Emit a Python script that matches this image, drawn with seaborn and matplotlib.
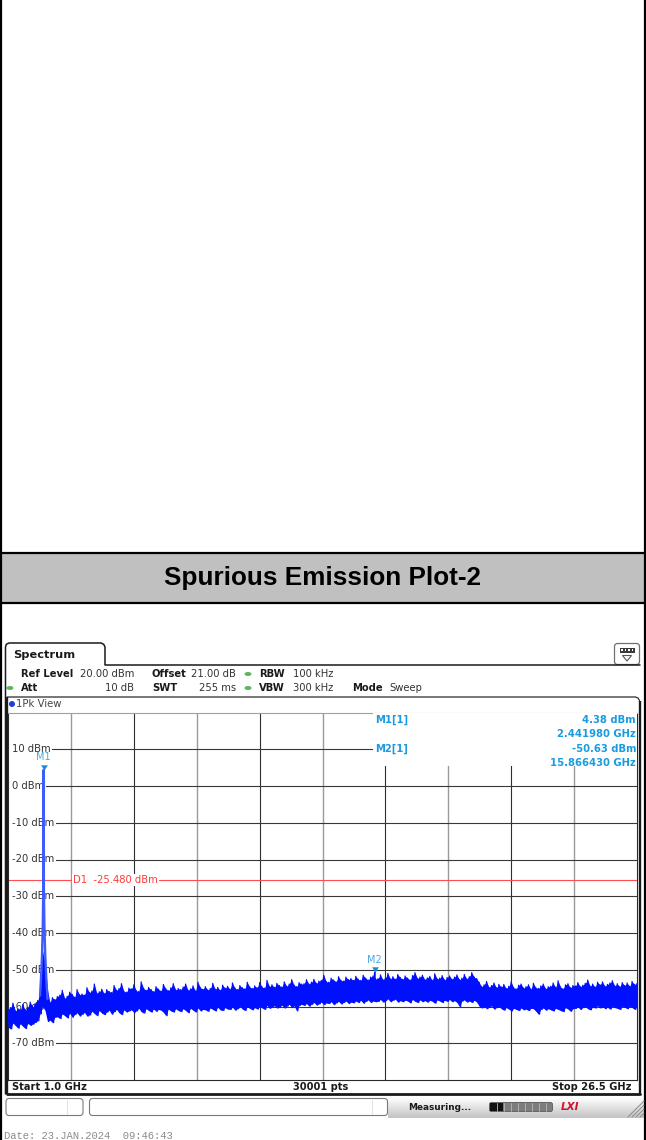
import numpy as np
import matplotlib
matplotlib.use("Agg")
import matplotlib.pyplot as plt
from matplotlib.patches import Rectangle, FancyBboxPatch, Ellipse, Circle, Polygon
from matplotlib.colors import LinearSegmentedColormap
import seaborn as sns

sns.set_theme(style="white")
plt.rcParams["font.family"] = ["DejaVu Sans"]

# ---------------- analyzer settings ----------------
start_ghz = 1.0
stop_ghz = 26.5
sweep_points = 30001
ref_level_dbm = 20.00
offset_db = 21.00
att_db = 10
swt_ms = 255
rbw_khz = 100
vbw_khz = 300
level_range_db = 100
display_line_dbm = -25.480

# ---------------- markers ----------------
m1_freq_ghz, m1_level_dbm = 2.441980, 4.38
m2_freq_ghz, m2_level_dbm = 15.866430, -50.63

level_labels_dbm = [10, 0, -10, -20, -30, -40, -50, -60, -70]

# ---------------- trace: max / min envelope per 100 MHz bin ----------------
trace_freq_ghz = np.arange(10, 266) / 10.0
trace_max_dbm = [
    -60.8, -60.3, -59.1, -61.2, -60.6, -60.9, -59.4, -61.1, -60.2, -58.8,
    -60.1, -59.2, -58.4, -56.5, -45.0, -48.0, -55.5, -58.9, -57.6, -58.1,
    -57.3, -56.9, -55.6, -57.8, -57.2, -56.1, -56.7, -57.5, -55.4, -56.8,
    -56.6, -56.9, -54.9, -56.2, -55.8, -53.9, -56.4, -56.0, -55.3, -56.5,
    -55.4, -55.9, -56.2, -54.3, -55.6, -55.1, -53.8, -55.9, -56.1, -55.0,
    -55.2, -54.1, -55.7, -55.9, -53.3, -55.1, -55.6, -54.8, -55.4, -56.0,
    -54.6, -55.3, -55.8, -54.0, -55.2, -55.7, -54.9, -53.8, -55.5, -55.1,
    -55.4, -54.7, -53.9, -55.6, -55.2, -54.4, -55.8, -53.4, -54.9, -55.3,
    -54.6, -55.5, -55.1, -53.7, -55.3, -54.8, -55.6, -54.2, -55.0, -54.5,
    -55.3, -53.6, -55.0, -55.4, -54.3, -54.9, -55.2, -53.4, -54.7, -55.1,
    -54.4, -54.9, -53.5, -54.7, -55.0, -52.9, -54.6, -54.1, -54.8, -53.7,
    -54.3, -54.7, -53.3, -54.5, -53.9, -52.7, -54.2, -54.6, -53.5, -53.9,
    -53.8, -52.7, -53.9, -53.4, -52.6, -53.7, -53.1, -52.9, -51.5, -53.2,
    -53.4, -52.3, -52.8, -53.3, -51.9, -52.9, -53.1, -52.0, -52.7, -52.4,
    -52.9, -51.8, -52.6, -52.9, -51.5, -52.3, -52.8, -52.0, -51.7, -52.5,
    -52.4, -51.4, -52.7, -52.2, -51.0, -52.5, -51.9, -52.6, -51.3, -52.1,
    -52.6, -51.7, -52.3, -52.8, -51.6, -50.8, -52.4, -52.0, -51.5, -52.7,
    -52.2, -51.8, -52.9, -51.1, -52.5, -52.3, -51.6, -52.8, -52.1, -51.7,
    -52.6, -52.0, -51.4, -52.7, -52.3, -51.3, -52.5, -51.9, -50.8, -52.0,
    -52.4, -53.4, -54.6, -54.1, -53.2, -54.8, -54.3, -53.6, -54.9, -54.0,
    -54.7, -54.0, -55.1, -54.5, -53.3, -54.9, -55.2, -54.2, -53.9, -55.0,
    -54.6, -54.1, -55.3, -53.7, -54.9, -55.1, -54.4, -53.9, -55.2, -54.6,
    -54.5, -53.6, -54.8, -53.0, -54.7, -55.2, -54.1, -53.8, -54.9, -54.3,
    -54.4, -53.5, -54.6, -54.2, -53.7, -52.8, -54.5, -53.9, -54.7, -53.4,
    -54.1, -53.3, -54.5, -54.0, -53.6, -53.0, -54.4, -53.8, -54.6, -53.5,
    -54.3, -53.6, -54.5, -53.2, -54.0, -53.7,
]
trace_min_dbm = [
    -65.6, -66.1, -64.5, -65.2, -65.9, -64.7, -65.4, -66.0, -64.6, -65.1,
    -64.8, -64.3, -63.9, -62.0, -60.0, -61.0, -64.1, -63.7, -64.4, -62.9,
    -62.8, -63.3, -62.0, -62.5, -63.1, -61.8, -62.9, -62.2, -61.7, -62.6,
    -62.1, -61.6, -62.6, -62.3, -61.3, -61.9, -62.5, -61.1, -61.8, -62.2,
    -61.5, -61.0, -62.1, -61.4, -60.8, -61.7, -62.2, -60.9, -61.5, -61.2,
    -60.9, -61.6, -61.2, -60.5, -61.4, -61.8, -60.6, -61.1, -61.5, -60.7,
    -61.3, -60.8, -61.0, -61.6, -62.5, -60.7, -61.2, -61.5, -60.6, -61.1,
    -61.4, -60.6, -61.1, -61.7, -60.5, -61.0, -61.5, -60.4, -61.2, -60.8,
    -60.9, -61.3, -60.4, -60.8, -61.2, -60.2, -60.9, -61.1, -60.3, -60.7,
    -60.8, -60.2, -61.0, -60.6, -59.9, -60.7, -61.1, -60.1, -60.5, -60.9,
    -60.3, -60.7, -59.9, -60.4, -60.8, -59.7, -60.5, -60.1, -59.8, -60.4,
    -60.2, -59.6, -60.4, -59.9, -59.4, -60.3, -59.8, -61.2, -59.7, -59.4,
    -59.7, -59.2, -59.9, -59.4, -58.9, -59.6, -59.3, -58.8, -59.5, -59.0,
    -59.2, -58.7, -59.5, -59.0, -58.6, -59.3, -58.9, -58.5, -59.2, -58.8,
    -59.0, -58.5, -58.9, -58.3, -59.1, -58.6, -58.2, -58.9, -58.5, -58.7,
    -58.6, -58.1, -58.8, -58.4, -57.9, -58.7, -58.3, -58.0, -58.8, -58.4,
    -58.7, -58.3, -58.5, -59.0, -58.1, -58.6, -58.9, -58.2, -58.7, -58.4,
    -58.8, -58.3, -58.6, -59.1, -58.2, -58.5, -58.9, -58.3, -58.6, -58.1,
    -58.7, -58.4, -58.9, -60.0, -58.5, -58.2, -58.8, -58.5, -58.9, -58.3,
    -58.8, -59.9, -60.4, -60.0, -60.6, -60.2, -59.8, -60.7, -60.3, -60.0,
    -60.6, -61.0, -60.3, -60.7, -61.2, -60.5, -60.8, -61.1, -60.4, -60.9,
    -60.7, -61.1, -60.5, -60.6, -61.3, -62.1, -60.8, -60.4, -61.0, -60.6,
    -60.9, -61.2, -60.5, -60.8, -61.1, -61.4, -60.3, -60.7, -61.3, -60.6,
    -60.5, -60.1, -60.8, -60.3, -60.0, -60.6, -60.9, -60.2, -60.4, -59.8,
    -60.4, -60.0, -60.6, -60.2, -60.7, -59.9, -60.3, -60.5, -60.8, -59.9,
    -60.2, -60.6, -59.9, -60.3, -60.8, -60.0,
]

# carrier (M1) and the small hump at M2
carrier_freq_ghz = [2.30, 2.34, 2.38, 2.41, 2.43, 2.437, m1_freq_ghz, 2.447, 2.455, 2.475, 2.51, 2.55, 2.60]
carrier_level_dbm = [-57.0, -52.0, -46.0, -38.0, -28.0, -10.0, m1_level_dbm, -10.0, -28.0, -38.0, -46.0, -52.0, -58.0]
m2_peak_freq_ghz = [15.80, 15.84, m2_freq_ghz, 15.89, 15.93]
m2_peak_level_dbm = [-53.8, -52.6, m2_level_dbm, -52.9, -54.1]

# ---------------- figure / page ----------------
W, H = 646, 1140
fig = plt.figure(figsize=(W / 100, H / 100), dpi=100)
fig.patch.set_facecolor("white")

page = fig.add_axes([0, 0, 1, 1], zorder=0)
page.set_xlim(0, W)
page.set_ylim(H, 0)
page.axis("off")

ink = "#1a1a1a"
grey_txt = "#333333"
small = 7.2

# report table
page.plot([1, 1], [0, H], color="black", lw=1.6, solid_capstyle="butt")
page.plot([645, 645], [0, H], color="black", lw=1.6, solid_capstyle="butt")
page.add_patch(Rectangle((0, 553), W, 49, fc="#c0c0c0", ec="none"))
page.plot([0, W], [552.5, 552.5], color="black", lw=1.6)
page.plot([0, W], [602.5, 602.5], color="black", lw=1.6)
page.text(W / 2, 578.5, "Spurious Emission Plot-2", ha="center", va="center",
          fontsize=18.8, fontweight="bold", family="Liberation Sans", color="black")

# analyzer tab and settings header
page.plot([5.5, 5.5, 6.3, 9, 101, 103.7, 105, 105, 640],
          [1094, 647, 644.3, 643, 643, 644.3, 647, 665, 665], color=ink, lw=1.1)
page.text(13, 654.5, "Spectrum", fontsize=8.2, fontweight="bold", va="center", color=ink)

page.add_patch(FancyBboxPatch((614.5, 643.5), 25, 21, boxstyle="round,pad=0,rounding_size=3",
                              fc="white", ec="#707070", lw=0.9))
page.add_patch(Rectangle((619.5, 647.5), 15, 5, fc="#3a3a3a", ec="none"))
for dx in (622, 625.5, 629, 632.5):
    page.add_patch(Rectangle((dx - 0.8, 649.3), 1.6, 1.5, fc="white", ec="none"))
page.add_patch(Polygon([(622.5, 655.5), (631.5, 655.5), (627, 661)], closed=True,
                       fc="white", ec="#555555", lw=0.8))

row1, row2 = 674, 688
bold = dict(fontsize=small, fontweight="bold", color=ink, va="center")
norm = dict(fontsize=small, color=grey_txt, va="center")
page.text(21, row1, "Ref Level", **bold)
page.text(134, row1, f"{ref_level_dbm:.2f} dBm", ha="right", **norm)
page.text(152, row1, "Offset", **bold)
page.text(236, row1, f"{offset_db:.2f} dB", ha="right", **norm)
page.text(259, row1, "RBW", **bold)
page.text(293, row1, f"{rbw_khz} kHz", **norm)
page.text(21, row2, "Att", **bold)
page.text(134, row2, f"{att_db} dB", ha="right", **norm)
page.text(152, row2, "SWT", **bold)
page.text(236, row2, f"{swt_ms} ms", ha="right", **norm)
page.text(259, row2, "VBW", **bold)
page.text(293, row2, f"{vbw_khz} kHz", **norm)
page.text(352, row2, "Mode", **bold)
page.text(389, row2, "Sweep", **norm)
for gx, gy in [(248, row1), (10, row2), (248, row2)]:
    page.add_patch(Ellipse((gx, gy), 7, 4, fc="#5cb85c", ec="none"))

# diagram frame
page.plot([7, 7], [697, 1094], color=ink, lw=1.7, solid_capstyle="butt")
page.plot([7, 635.5, 638, 639.5], [697, 697, 698, 700.5], color="#2a2a2a", lw=0.9)
page.plot([639.5, 639.5], [700.5, 1094.5], color=ink, lw=1.7, solid_capstyle="butt")
page.plot([6.5, 640], [1094, 1094], color=ink, lw=2.0)
page.add_patch(Circle((12, 704), 3, fc="#1f3fdc", ec="none"))
page.text(15.5, 704, "1Pk View", fontsize=7.3, color="#444444", va="center")

foot = dict(fontsize=7.1, fontweight="bold", color=ink, va="center")
page.text(12, 1087.5, f"Start {start_ghz:.1f} GHz", **foot)
page.text(321, 1087.5, f"{sweep_points} pts", ha="center", **foot)
page.text(631, 1087.5, f"Stop {stop_ghz:.1f} GHz", ha="right", **foot)

# status bar
shade = LinearSegmentedColormap.from_list("shade", ["#ffffff", "#c4c4c4"])
page.imshow(np.linspace(0, 1, 24).reshape(-1, 1), cmap=shade, aspect="auto",
            extent=(388, 644, 1118, 1097), origin="upper", zorder=0)
page.add_patch(FancyBboxPatch((6, 1098.5), 77, 17, boxstyle="round,pad=0,rounding_size=3",
                              fc="white", ec="#7a7a7a", lw=0.8))
page.add_patch(FancyBboxPatch((89.5, 1098.5), 298, 17, boxstyle="round,pad=0,rounding_size=3",
                              fc="white", ec="#7a7a7a", lw=0.8))
page.plot([67, 67], [1100, 1114], color="#e4e4e4", lw=0.8)
page.plot([372, 372], [1100, 1114], color="#e4e4e4", lw=0.8)
page.text(408, 1107, "Measuring...", fontsize=6.4, fontweight="bold", color=ink, va="center")
page.add_patch(FancyBboxPatch((489.5, 1102.5), 63, 9, boxstyle="round,pad=0,rounding_size=2",
                              fc="#7c7c7c", ec="#5a5a5a", lw=0.6))
page.add_patch(Rectangle((490, 1103), 13, 8, fc="#111111", ec="none"))
for sx in np.arange(496.5, 552, 7):
    page.plot([sx, sx], [1103, 1111], color="#b8b8b8", lw=0.6)
page.text(570, 1107, "LXI", fontsize=7.5, fontweight="bold", style="italic",
          color="#d0102a", ha="center", va="center")
for k in range(4):
    page.plot([628 + 4 * k, 644], [1117, 1101 + 4 * k], color="#8a8a8a", lw=0.7)
page.text(4, 1136, "Date: 23.JAN.2024  09:46:43", fontsize=7.6, family="Liberation Mono",
          color="#8c8c8c", va="center")
page.set_xlim(0, W)
page.set_ylim(H, 0)

# ---------------- spectrum diagram ----------------
ax = fig.add_axes([8 / W, 60 / H, 629 / W, 367.5 / H], zorder=1)
ax.set_facecolor("none")
x_div = np.linspace(start_ghz, stop_ghz, 11)
y_div = np.linspace(ref_level_dbm - level_range_db, ref_level_dbm, 11)

for k, xv in enumerate(x_div[1:-1], start=1):
    if k % 2:
        ax.axvline(xv, color="#9a9a9a", lw=1.0, zorder=1)
    else:
        ax.axvline(xv, color="#2e2e2e", lw=0.8, zorder=1)
# level lines start where their labels start
for yv in y_div[1:-1]:
    ax.axhline(yv, xmin=4.5 / 629, color="#383838", lw=0.8, zorder=1)

for lv in level_labels_dbm:
    ax.text(4.5 / 629, lv, f"{lv} dBm", transform=ax.get_yaxis_transform(), ha="left",
            va="center", fontsize=small, color=grey_txt, zorder=2,
            bbox=dict(boxstyle="square,pad=0.12", fc="white", ec="none"))

# display line D1
ax.axhline(display_line_dbm, color="#ff4c4c", lw=0.8, zorder=2.5)
ax.text(65 / 629, display_line_dbm, f"D1  {display_line_dbm:.3f} dBm",
        transform=ax.get_yaxis_transform(), ha="left", va="center", fontsize=small,
        color="#ff3a3a", zorder=2.6, bbox=dict(boxstyle="square,pad=0.1", fc="white", ec="none"))

# trace band: zig-zag between the bin maximum and minimum
f_hi = np.asarray(trace_freq_ghz)
zig_x = np.column_stack([f_hi, f_hi + 0.05]).ravel()
zig_y = np.column_stack([trace_max_dbm, trace_min_dbm]).ravel()
ax.fill_between(f_hi, trace_min_dbm, trace_max_dbm, color="#0010ff", lw=0, zorder=3)
sns.lineplot(x=zig_x, y=zig_y, sort=False, estimator=None, color="#0010ff",
             lw=0.9, ax=ax, zorder=3)
sns.lineplot(x=m2_peak_freq_ghz, y=m2_peak_level_dbm, sort=False, estimator=None,
             color="#0010ff", lw=1.0, ax=ax, zorder=3)
sns.lineplot(x=carrier_freq_ghz, y=carrier_level_dbm, sort=False, estimator=None,
             color="#3d5cff", lw=1.7, ax=ax, zorder=3.2)

# marker symbols
tri = [(-1.3, 2.0), (1.3, 2.0), (0.0, 0.0)]
for mf, ml, name in [(m1_freq_ghz, m1_level_dbm, "M1"), (m2_freq_ghz, m2_level_dbm, "M2")]:
    ax.plot([mf], [ml], marker=tri, ms=7.5, color="#1e88d8", mec="none", zorder=4)
    ax.annotate(name, (mf, ml), xytext=(0, 12.5), textcoords="offset pixels",
                ha="center", va="center", fontsize=7, color="#4aa8e0", zorder=4)

ax.set_xlim(start_ghz, stop_ghz)
ax.set_ylim(y_div[0], y_div[-1])
ax.set_xticks([])
ax.set_yticks([])
ax.set_xlabel("")
ax.set_ylabel("")
ax.spines["top"].set_color("#a0a0a0")
ax.spines["top"].set_linewidth(0.8)
for side in ("bottom", "right", "left"):
    ax.spines[side].set_color("#2a2a2a")
    ax.spines[side].set_linewidth(0.8)

# ---------------- marker table ----------------
over = fig.add_axes([0, 0, 1, 1], zorder=2)
over.set_xlim(0, W)
over.set_ylim(H, 0)
over.axis("off")
over.add_patch(Rectangle((373, 713.3), 263.5, 53, fc="white", ec="none"))
mk = dict(fontsize=small, fontweight="bold", color="#1a9be0", va="center")
over.text(375, 720, "M1[1]", **mk)
over.text(636, 720, f"{m1_level_dbm:.2f} dBm", ha="right", **mk)
over.text(636, 734, f"{m1_freq_ghz:.6f} GHz", ha="right", **mk)
over.text(375, 748.5, "M2[1]", **mk)
over.text(636, 748.5, f"{m2_level_dbm:.2f} dBm", ha="right", **mk)
over.text(636, 762.5, f"{m2_freq_ghz:.6f} GHz", ha="right", **mk)

fig.savefig("out.png", dpi=100)
